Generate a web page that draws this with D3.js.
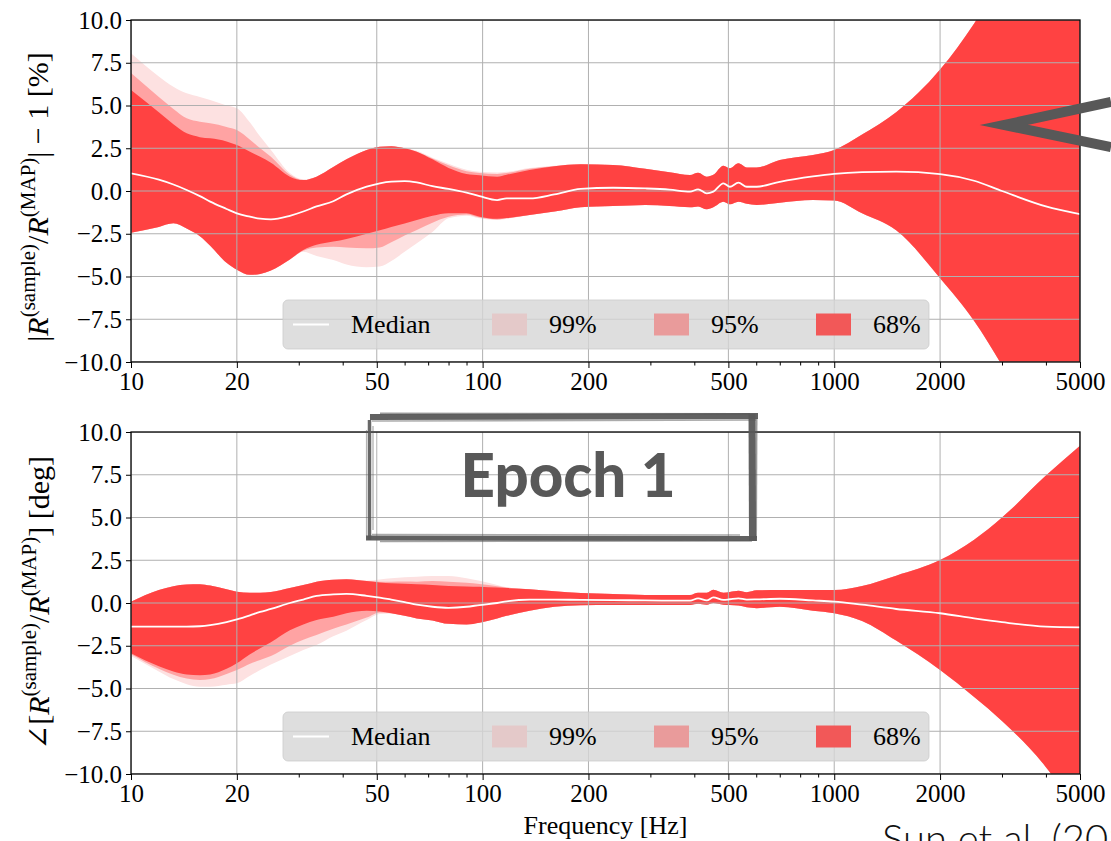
<!DOCTYPE html>
<html>
<head>
<meta charset="utf-8">
<script src="https://cdn.jsdelivr.net/npm/d3@7"></script>
<style>
  html, body { margin: 0; padding: 0; background: #fff; }
  svg { display: block; }
</style>
</head>
<body>
<svg id="fig" width="1111" height="841"></svg>
<script>
// Frequency grid shared by both panels (Hz)
const freq = [10, 12, 13.2, 14.4, 15.7, 16.8, 18.7, 20, 21.8, 23.3, 25, 28.3, 30.9, 33.7, 37.6, 41, 46.8, 51, 55, 60,
  65, 72, 80, 90, 98, 110, 117, 136, 160, 190, 235, 290, 340, 389, 410, 434, 453, 484, 505, 534,
  564, 602, 700, 870, 1000, 1200, 1500, 2000, 2500, 3000, 4000, 5000];

// Magnitude ratio |R(sample)/R(MAP)| - 1 [%]
const magMedian = [1.03, 0.66, 0.38, 0.06, -0.3, -0.62, -1.05, -1.31, -1.5, -1.62, -1.66, -1.45, -1.2, -0.9, -0.6, -0.2, 0.25, 0.45, 0.55, 0.58,
  0.5, 0.28, 0.12, -0.1, -0.3, -0.53, -0.43, -0.43, -0.2, 0.12, 0.19, 0.15, 0.08, -0.04, 0.1, -0.14, -0.04, 0.45, 0.25, 0.49,
  0.25, 0.25, 0.54, 0.85, 1.0, 1.1, 1.13, 0.99, 0.6, 0.0, -0.9, -1.35];
const mag68Hi = [5.9, 4.6, 3.9, 3.37, 3.15, 3.08, 2.9, 2.69, 2.3, 2.0, 1.65, 0.84, 0.64, 0.84, 1.4, 1.85, 2.4, 2.59, 2.62, 2.5,
  2.3, 1.85, 1.35, 1.0, 0.92, 0.84, 0.95, 1.23, 1.45, 1.56, 1.52, 1.3, 1.1, 0.94, 1.07, 0.84, 0.95, 1.48, 1.33, 1.62,
  1.38, 1.38, 1.81, 2.11, 2.4, 3.3, 4.6, 7.1, 9.8, 12.5, 18, 23];
const mag68Lo = [-2.44, -2.1, -1.89, -2.2, -2.65, -3.2, -4.2, -4.6, -4.9, -4.85, -4.65, -4.0, -3.45, -3.15, -2.96, -2.8, -2.5, -2.3, -2.1, -1.9,
  -1.7, -1.45, -1.3, -1.3, -1.5, -1.62, -1.58, -1.4, -1.2, -0.95, -0.88, -0.82, -0.88, -0.95, -0.9, -1.07, -0.95, -0.63, -0.78, -0.63,
  -0.75, -0.82, -0.68, -0.52, -0.55, -1.3, -2.3, -5.1, -7.6, -10.2, -15, -20];
const mag95Hi = [6.9, 5.5, 4.8, 4.25, 4.05, 3.96, 3.75, 3.57, 3.0, 2.5, 2.0, 0.95, 0.64, 0.84, 1.4, 1.85, 2.4, 2.59, 2.62, 2.5,
  2.3, 1.9, 1.5, 1.15, 1.05, 1.0, 1.05, 1.3, 1.45, 1.56, 1.52, 1.3, 1.1, 0.94, 1.07, 0.84, 0.95, 1.48, 1.33, 1.62,
  1.38, 1.38, 1.81, 2.11, 2.4, 3.3, 4.6, 7.1, 9.8, 12.5, 18, 23];
const mag95Lo = [-2.44, -2.1, -1.89, -2.2, -2.65, -3.2, -4.2, -4.6, -4.9, -4.85, -4.65, -4.0, -3.5, -3.3, -3.26, -3.3, -3.35, -3.3, -3.0, -2.6,
  -2.28, -1.85, -1.5, -1.38, -1.55, -1.66, -1.6, -1.4, -1.2, -0.95, -0.88, -0.82, -0.88, -0.95, -0.9, -1.07, -0.95, -0.63, -0.78, -0.63,
  -0.75, -0.82, -0.68, -0.52, -0.55, -1.3, -2.3, -5.1, -7.6, -10.2, -15, -20];
const mag99Hi = [8.05, 6.7, 6.1, 5.71, 5.5, 5.32, 5.0, 4.84, 4.0, 3.18, 2.4, 1.05, 0.68, 0.84, 1.4, 1.85, 2.4, 2.59, 2.62, 2.52,
  2.35, 1.95, 1.6, 1.25, 1.12, 1.08, 1.12, 1.35, 1.48, 1.56, 1.52, 1.3, 1.1, 0.94, 1.07, 0.84, 0.95, 1.48, 1.33, 1.62,
  1.38, 1.38, 1.81, 2.11, 2.4, 3.3, 4.6, 7.1, 9.8, 12.5, 18, 23];
const mag99Lo = [-2.44, -2.1, -1.89, -2.2, -2.65, -3.2, -4.2, -4.6, -4.9, -4.85, -4.65, -4.0, -3.55, -3.8, -4.04, -4.3, -4.46, -4.42, -4.1, -3.55,
  -3.06, -2.4, -1.6, -1.45, -1.6, -1.7, -1.62, -1.4, -1.2, -0.95, -0.88, -0.82, -0.88, -0.95, -0.9, -1.07, -0.95, -0.63, -0.78, -0.63,
  -0.75, -0.82, -0.68, -0.52, -0.55, -1.3, -2.3, -5.1, -7.6, -10.2, -15, -20];

// Phase difference angle[R(sample)/R(MAP)] [deg]
const phMedian = [-1.38, -1.38, -1.38, -1.38, -1.36, -1.3, -1.12, -0.96, -0.72, -0.52, -0.35, 0.0, 0.2, 0.41, 0.5, 0.53, 0.42, 0.32, 0.2, 0.05,
  -0.1, -0.22, -0.28, -0.22, -0.12, 0.0, 0.1, 0.2, 0.2, 0.18, 0.17, 0.15, 0.14, 0.14, 0.27, 0.15, 0.33, 0.18, 0.22, 0.27,
  0.2, 0.21, 0.25, 0.15, 0.08, -0.1, -0.35, -0.6, -0.9, -1.12, -1.38, -1.42];
const ph68Hi = [0.08, 0.76, 0.98, 1.08, 1.1, 1.02, 0.8, 0.66, 0.6, 0.6, 0.65, 0.88, 1.05, 1.25, 1.36, 1.39, 1.28, 1.2, 1.15, 1.12,
  1.09, 1.05, 1.0, 0.97, 0.95, 0.9, 0.87, 0.8, 0.68, 0.58, 0.52, 0.47, 0.47, 0.47, 0.6, 0.6, 0.78, 0.6, 0.65, 0.72,
  0.63, 0.74, 0.76, 0.76, 0.76, 1.0, 1.6, 2.51, 3.7, 5.0, 7.45, 9.2];
const ph68Lo = [-2.94, -3.7, -4.0, -4.18, -4.22, -4.18, -3.85, -3.53, -3.0, -2.65, -2.3, -1.6, -1.25, -0.99, -0.8, -0.6, -0.45, -0.5, -0.6, -0.75,
  -0.9, -1.02, -1.22, -1.25, -1.15, -0.9, -0.75, -0.45, -0.22, -0.13, -0.12, -0.12, -0.12, -0.12, -0.05, -0.1, 0.0, -0.1, -0.12, -0.15,
  -0.25, -0.3, -0.22, -0.45, -0.6, -1.05, -2.2, -3.92, -5.5, -6.9, -9.6, -12.5];
const ph95Hi = [0.08, 0.76, 0.98, 1.08, 1.1, 1.02, 0.8, 0.66, 0.6, 0.6, 0.65, 0.88, 1.05, 1.25, 1.36, 1.39, 1.28, 1.25, 1.25, 1.26,
  1.25, 1.28, 1.25, 1.18, 1.11, 0.98, 0.9, 0.8, 0.68, 0.58, 0.52, 0.47, 0.47, 0.47, 0.6, 0.6, 0.78, 0.6, 0.65, 0.72,
  0.63, 0.74, 0.76, 0.76, 0.76, 1.0, 1.6, 2.51, 3.7, 5.0, 7.45, 9.2];
const ph95Lo = [-3.0, -3.85, -4.2, -4.42, -4.5, -4.45, -4.15, -3.92, -3.55, -3.33, -3.1, -2.5, -2.15, -1.87, -1.5, -1.25, -0.85, -0.55, -0.6, -0.75,
  -0.9, -1.02, -1.22, -1.25, -1.15, -0.9, -0.75, -0.45, -0.22, -0.13, -0.12, -0.12, -0.12, -0.12, -0.05, -0.1, 0.0, -0.1, -0.12, -0.15,
  -0.25, -0.3, -0.22, -0.45, -0.6, -1.05, -2.2, -3.92, -5.5, -6.9, -9.6, -12.5];
const ph99Hi = [0.08, 0.76, 0.98, 1.08, 1.1, 1.02, 0.8, 0.66, 0.6, 0.6, 0.65, 0.88, 1.05, 1.25, 1.36, 1.39, 1.32, 1.38, 1.45, 1.5,
  1.54, 1.58, 1.58, 1.45, 1.3, 1.05, 0.92, 0.8, 0.68, 0.58, 0.52, 0.47, 0.47, 0.47, 0.6, 0.6, 0.78, 0.6, 0.65, 0.72,
  0.63, 0.74, 0.76, 0.76, 0.76, 1.0, 1.6, 2.51, 3.7, 5.0, 7.45, 9.2];
const ph99Lo = [-3.1, -4.0, -4.45, -4.75, -4.9, -4.9, -4.78, -4.7, -4.25, -3.92, -3.6, -3.1, -2.75, -2.46, -1.95, -1.62, -1.0, -0.65, -0.62, -0.75,
  -0.9, -1.02, -1.22, -1.25, -1.15, -0.9, -0.75, -0.45, -0.22, -0.13, -0.12, -0.12, -0.12, -0.12, -0.05, -0.1, 0.0, -0.1, -0.12, -0.15,
  -0.25, -0.3, -0.22, -0.45, -0.6, -1.05, -2.2, -3.92, -5.5, -6.9, -9.6, -12.5];

// Axis ticks and legend labels
const xTickValues = [10, 20, 50, 100, 200, 500, 1000, 2000, 5000];
const yTickValues = [-10, -7.5, -5, -2.5, 0, 2.5, 5, 7.5, 10];
const legendLabels = ["Median", "99%", "95%", "68%"];

// ---------------------------------------------------------------------------
const svg = d3.select("#fig");
const serif = "'Liberation Serif', 'DejaVu Serif', serif";
const plotLeft = 131, plotRight = 1080;
const col99 = "#fde1e1", col95 = "#ffa3a3", col68 = "#ff4242";
const legendSwatch = { "99%": "#e4c9c9", "95%": "#e99b9b", "68%": "#f25858" };

const x = d3.scaleLog().domain([10, 5000]).range([plotLeft, plotRight]);
const xMinorValues = [];
[10, 100, 1000].forEach(dec => {
  for (let k = 1; k <= 9; k++) {
    const v = k * dec;
    if (v >= 10 && v <= 5000 && !xTickValues.includes(v)) xMinorValues.push(v);
  }
});

const panels = [
  { id: "mag", top: 20, bottom: 362, median: magMedian, labelX: 48, labelDy: 6,
    lo68: mag68Lo, hi68: mag68Hi, lo95: mag95Lo, hi95: mag95Hi, lo99: mag99Lo, hi99: mag99Hi,
    label: [["|", ""], ["R", "i"], ["(sample)", "s"], ["/", "n"], ["R", "i"], ["(MAP)", "s"], ["| \u2212 1 [%]", "n"]] },
  { id: "ph", top: 432, bottom: 774, median: phMedian, labelX: 49, labelDy: 0,
    lo68: ph68Lo, hi68: ph68Hi, lo95: ph95Lo, hi95: ph95Hi, lo99: ph99Lo, hi99: ph99Hi,
    label: [["\u2220[", ""], ["R", "i"], ["(sample)", "s"], ["/", "n"], ["R", "i"], ["(MAP)", "s"], ["] [deg]", "n"]] }
];

const defs = svg.append("defs");

panels.forEach(p => {
  const y = d3.scaleLinear().domain([-10, 10]).range([p.bottom, p.top]);
  const g = svg.append("g").attr("class", "panel-" + p.id);
  const clipId = "clip-" + p.id;
  defs.append("clipPath").attr("id", clipId)
    .append("rect").attr("x", plotLeft).attr("y", p.top)
    .attr("width", plotRight - plotLeft).attr("height", p.bottom - p.top);

  const rows = freq.map((f, i) => ({ f, i }));
  const band = (lo, hi) => d3.area()
    .x(d => x(d.f)).y0(d => y(lo[d.i])).y1(d => y(hi[d.i]))
    .curve(d3.curveMonotoneX);

  const plot = g.append("g").attr("clip-path", `url(#${clipId})`);
  plot.append("path").datum(rows).attr("d", band(p.lo99, p.hi99)).attr("fill", col99);
  plot.append("path").datum(rows).attr("d", band(p.lo95, p.hi95)).attr("fill", col95);
  plot.append("path").datum(rows).attr("d", band(p.lo68, p.hi68)).attr("fill", col68);

  // grid over the bands
  const grid = plot.append("g").attr("stroke", "#b0b0b0").attr("stroke-width", 1);
  grid.selectAll("line.gx").data(xTickValues).join("line").attr("class", "gx")
    .attr("x1", d => x(d)).attr("x2", d => x(d)).attr("y1", p.top).attr("y2", p.bottom);
  grid.selectAll("line.gy").data(yTickValues).join("line").attr("class", "gy")
    .attr("x1", plotLeft).attr("x2", plotRight).attr("y1", d => y(d)).attr("y2", d => y(d));

  // median curve
  plot.append("path").datum(rows)
    .attr("d", d3.line().x(d => x(d.f)).y(d => y(p.median[d.i])).curve(d3.curveMonotoneX))
    .attr("fill", "none").attr("stroke", "#ffffff").attr("stroke-width", 1.8);

  // axes
  const xAxis = g.append("g").attr("transform", `translate(0,${p.bottom})`)
    .call(d3.axisBottom(x).tickValues(xTickValues).tickFormat(d3.format("d")).tickSize(6).tickSizeOuter(0).tickPadding(4));
  g.append("g").attr("transform", `translate(0,${p.bottom})`)
    .call(d3.axisBottom(x).tickValues(xMinorValues).tickFormat("").tickSize(3.5).tickSizeOuter(0))
    .call(a => a.select(".domain").remove());
  const yAxis = g.append("g").attr("transform", `translate(${plotLeft},0)`)
    .call(d3.axisLeft(y).tickValues(yTickValues).tickFormat(d3.format(".1f")).tickSize(5).tickSizeOuter(0).tickPadding(4));
  [xAxis, yAxis].forEach(a => {
    a.select(".domain").remove();
    a.attr("font-family", null).attr("font-size", null);
    a.selectAll("text")
      .style("font-family", serif).style("font-size", "25px").attr("fill", "#000");
  });
  g.selectAll(".tick line").attr("stroke", "#000").attr("stroke-width", 1);

  // frame
  g.append("rect").attr("x", plotLeft).attr("y", p.top)
    .attr("width", plotRight - plotLeft).attr("height", p.bottom - p.top)
    .attr("fill", "none").attr("stroke", "#000").attr("stroke-width", 1.3);

  // y label
  const cy = (p.top + p.bottom) / 2 + p.labelDy;
  const lab = g.append("text")
    .attr("transform", `translate(${p.labelX},${cy}) rotate(-90)`)
    .attr("text-anchor", "middle").style("font-family", serif).style("font-size", "30px").attr("fill", "#000");
  let raised = false;
  p.label.forEach(([t, kind]) => {
    const ts = lab.append("tspan").text(t);
    if (kind === "i") ts.attr("font-style", "italic");
    if (kind === "s") { ts.style("font-size", "21px").attr("dy", -13); raised = true; }
    else if (raised) { ts.attr("dy", 13); raised = false; }
  });

  // legend
  const lg = g.append("g");
  const ly = p.bottom - 37.5;
  lg.append("rect").attr("x", 283).attr("y", ly - 24.5).attr("width", 646).attr("height", 49)
    .attr("rx", 5).attr("fill", "#d6d6d6").attr("fill-opacity", 0.8)
    .attr("stroke", "#cccccc").attr("stroke-opacity", 0.8);
  lg.append("line").attr("x1", 293).attr("x2", 329).attr("y1", ly).attr("y2", ly)
    .attr("stroke", "#fff").attr("stroke-width", 1.8);
  const itemX = { "Median": 351, "99%": 549, "95%": 711, "68%": 873 };
  const swatchX = { "99%": 492, "95%": 654, "68%": 816 };
  legendLabels.forEach(lbl => {
    if (swatchX[lbl] !== undefined) {
      lg.append("rect").attr("x", swatchX[lbl]).attr("y", ly - 11).attr("width", 35).attr("height", 22)
        .attr("fill", legendSwatch[lbl]);
    }
    lg.append("text").attr("x", itemX[lbl]).attr("y", ly).attr("dy", "0.33em")
      .style("font-family", serif).style("font-size", "26px").attr("fill", "#000").text(lbl);
  });
});

// x label
svg.append("text").attr("x", (plotLeft + plotRight) / 2).attr("y", 834)
  .attr("text-anchor", "middle").style("font-family", serif).style("font-size", "26px")
  .text("Frequency [Hz]");

// "Epoch 1" tag with a brushed frame
const tag = svg.append("g").attr("stroke", "#585858").attr("fill", "none").attr("stroke-linecap", "butt");
const strokes = [
  // top edge
  [[370, 417], [758, 416], 6, 0.95], [[380, 413.5], [750, 414], 2, 0.6], [[372, 421], [756, 420], 1.5, 0.5],
  // right edge
  [[752, 414], [752.5, 541], 7, 0.95], [[756.5, 418], [756, 538], 2, 0.6],
  // bottom edge
  [[366, 538], [757, 538.5], 5, 0.95], [[372, 534.5], [740, 535], 1.5, 0.5], [[380, 541.5], [752, 541], 1.5, 0.55],
  // left edge
  [[369.5, 420], [369.5, 540], 3.5, 0.9], [[373, 426], [373, 530], 1.2, 0.5], [[366.5, 430], [366.5, 536], 1.2, 0.45]
];
strokes.forEach(([a, b, w, o]) => {
  tag.append("line").attr("x1", a[0]).attr("y1", a[1]).attr("x2", b[0]).attr("y2", b[1])
    .attr("stroke-width", w).attr("stroke-opacity", o);
});
svg.append("text").attr("x", 568).attr("y", 497).attr("text-anchor", "middle")
  .style("font-family", "Lato, 'Open Sans', sans-serif").style("font-weight", 900).style("font-size", "60px")
  .attr("fill", "#585858").text("Epoch 1");

// pointer arrow at the right edge
svg.append("path")
  .attr("d", "M1111,102 L1004,125 L1111,147")
  .attr("fill", "none").attr("stroke", "#585858").attr("stroke-width", 10)
  .attr("stroke-linejoin", "miter").attr("stroke-miterlimit", 10);

// citation, running off the page
svg.append("text").attr("x", 882).attr("y", 853)
  .style("font-family", "Lato, 'Open Sans', sans-serif").style("font-weight", 300).style("font-size", "40px")
  .attr("fill", "#111").text("Sun et al. (2020)");
</script>
</body>
</html>
